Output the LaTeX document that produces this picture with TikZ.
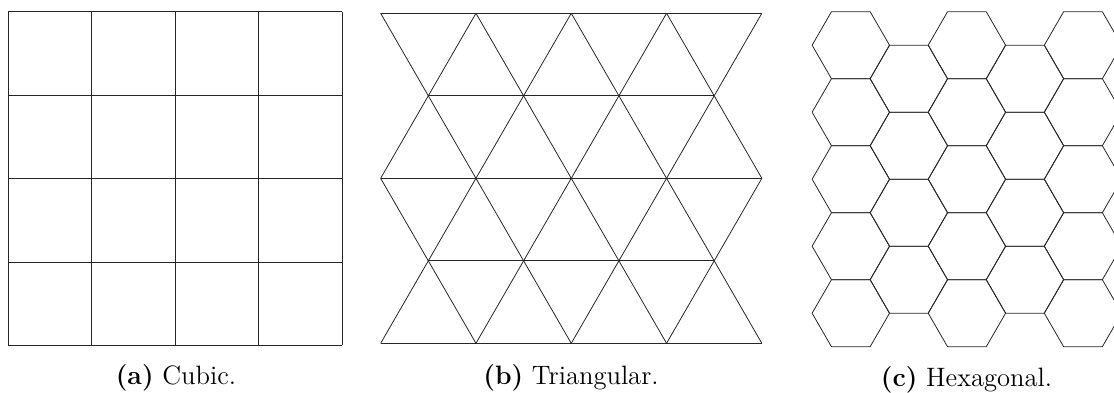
\documentclass[tikz,border=0pt]{standalone}
\usepackage{tikz}
\usetikzlibrary{positioning}

\begin{document}
\begin{tikzpicture}[x=0.5pt,y=-0.5pt,line width=0.4pt]
        \tikzset{lat/.style={draw=black!85,line join=round},
                 subcap/.style={anchor=base,inner sep=0pt,font=\fontsize{13.3}{16}\selectfont}}
        \clip (0,0) rectangle (1114,392);

        %cubic lattice, 4x4 cells
            \foreach \i in {0,...,4}{
                \draw[lat] (8.3+83.5*\i,11.7) -- (8.3+83.5*\i,345.3);
                \draw[lat] (8.3,11.7+83.4*\i) -- (342.3,11.7+83.4*\i);
            }
            \node[subcap] (capa) at (176,384) {\textbf{(a)} Cubic.};

        %triangular lattice
            \foreach \r in {0,2,4}
                \draw[lat] (380.7,13.3+82.5*\r) -- (761.9,13.3+82.5*\r);
            \foreach \r in {1,3}
                \draw[lat] (428.3,13.3+82.5*\r) -- (714.3,13.3+82.5*\r);
            \foreach \k in {0,...,3}{
                \pgfmathsetmacro{\xn}{428.3+95.3*\k}
                \draw[lat] (\xn-47.65,13.3) -- (\xn,95.8) -- (\xn-47.65,178.3)
                           -- (\xn,260.8) -- (\xn-47.65,343.3);
                \draw[lat] (\xn+47.65,13.3) -- (\xn,95.8) -- (\xn+47.65,178.3)
                           -- (\xn,260.8) -- (\xn+47.65,343.3);
            }
            \node[subcap] (capb) at (571,384) {\textbf{(b)} Triangular.};

        %hexagonal lattice, columns of 5 and 4 cells
            \foreach \c in {0,...,4}{
                \pgfmathsetmacro{\cx}{850.8+58.05*\c}
                \pgfmathtruncatemacro{\odd}{mod(\c,2)}
                \pgfmathtruncatemacro{\nr}{4-\odd}
                \foreach \k in {0,...,\nr}{
                    \pgfmathsetmacro{\cy}{45.2+33.5*\odd+67*\k}
                    \draw[lat] (\cx-38.7,\cy) -- (\cx-19.35,\cy-33.5) -- (\cx+19.35,\cy-33.5)
                               -- (\cx+38.7,\cy) -- (\cx+19.35,\cy+33.5) -- (\cx-19.35,\cy+33.5) -- cycle;
                }
            }
            \node[subcap] (capc) at (966.5,386) {\textbf{(c)} Hexagonal.};
\end{tikzpicture}
\end{document}
